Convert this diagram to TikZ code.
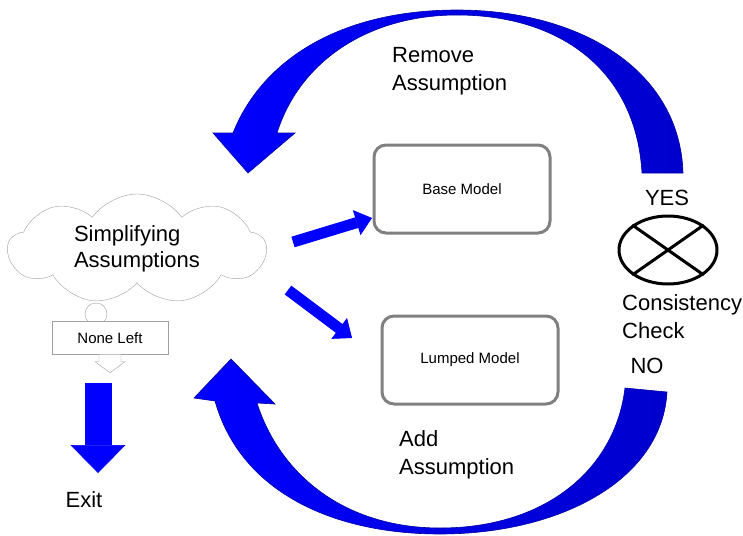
\documentclass[tikz,border=0pt]{standalone}
\usepackage{fontspec}
\setmainfont{Liberation Sans}
\usetikzlibrary{shapes,arrows.meta,positioning}

\definecolor{arrowblue}{RGB}{0,0,255}
\definecolor{arrowdark}{RGB}{0,0,205}
\definecolor{arrowedge}{RGB}{0,0,160}
\definecolor{boxgray}{RGB}{128,128,128}
\definecolor{cloudgray}{RGB}{160,160,160}

\begin{document}
\begin{tikzpicture}[x=1pt, y=-1pt]
\tikzset{
    % big labels
    bigtext/.style={
           font=\fontsize{22}{28}\selectfont,
           align=left,
           inner sep=0pt},
    % boxes for the models
    modelbox/.style={
           rectangle,
           rounded corners=12pt,
           draw=boxgray, line width=3pt,
           fill=white,
           minimum width=176pt,
           minimum height=88pt,
           font=\fontsize{15}{18}\selectfont},
    % straight block arrows
    smallpil/.style={
           draw=arrowblue,
           line width=11pt,
           -{Triangle[width=26pt,length=16pt,line width=0.6pt]}},
    exitpil/.style={
           draw=arrowblue,
           line width=27pt,
           -{Triangle[width=55pt,length=28pt,line width=0.6pt]}},
    % curved block arrows
    bigcurve/.style={
           left color=arrowblue,
           right color=arrowdark,
           draw=arrowedge,
           line width=0.6pt}
}
\useasboundingbox (0,0) rectangle (743,535);

 % curved arrows
 \path[bigcurve] (683,173) .. controls (680,70) and (580,10) .. (457,10)
   .. controls (340,10) and (262,60) .. (233,133)
   -- (213,133) -- (248,173) -- (295,133) -- (277,133)
   .. controls (300,60) and (370,15) .. (457,15)
   .. controls (560,15) and (636,70) .. (642,173) -- cycle;
 \path[bigcurve] (667,392) .. controls (662,480) and (560,534) .. (440,534)
   .. controls (330,534) and (240,490) .. (215,401)
   -- (194,398) -- (231,359) -- (275,404) -- (257,403)
   .. controls (280,475) and (345,528) .. (440,528)
   .. controls (545,528) and (615,470) .. (625,388) -- cycle;

 % cloud with its bubble
 \node[circle, draw=cloudgray, minimum size=22pt, inner sep=0pt] (bubble) at (96,314) {};
 \node[cloud, cloud puffs=9, cloud puff arc=110, aspect=2.4, draw=cloudgray, fill=white,
       minimum width=258pt, minimum height=110pt, align=left,
       font=\fontsize{22}{26}\selectfont] (simp) at (137,249) {Simplifying\\Assumptions};

 % none left callout
 \node[rectangle, draw=cloudgray, fill=white, minimum width=116pt, minimum height=33pt,
       font=\fontsize{15}{18}\selectfont] (none) at (110,338) {None Left};
 \draw[cloudgray, fill=white] ([xshift=-11pt]none.south) -- ++(0,7) -- ++(-4,0)
   -- ++(15,11) -- ++(15,-11) -- ++(-4,0) -- ++(0,-7);

 % exit
 \node[bigtext, anchor=base] (exit) at (84,507) {Exit};
 \coordinate (exitstart) at (98,383);
 \coordinate (exitend) at (98,473);
 \draw[exitpil] (exitstart) -- (exitend);

 % models
 \node[modelbox] (base) at (462,189) {Base Model};
 \node[modelbox] (lumped) at (470,360) {Lumped Model};
 \coordinate (tobase) at (293,242);
 \coordinate (tolumped) at (288,290);
 \draw[smallpil] (tobase) -- (372,218);
 \draw[smallpil] (tolumped) -- (352,338);

 % consistency check
 \node[ellipse, draw=black, line width=3pt, minimum width=98pt, minimum height=68pt,
       inner sep=0pt] (check) at (668,250) {};
 \draw[line width=3pt] (check.35) -- (check.215) (check.145) -- (check.325);
 \node[bigtext, anchor=base] (yes) at (667,205) {YES};
 \node[bigtext, anchor=base] (no) at (647,373) {NO};
 \node[bigtext, anchor=north west] (cons) at (622,294) {Consistency\\Check};

 % labels of the loops
 \node[bigtext, anchor=north west] (remove) at (392,47) {Remove\\Assumption};
 \node[bigtext, anchor=north west] (add) at (399,430) {Add\\Assumption};
\end{tikzpicture}
\end{document}
